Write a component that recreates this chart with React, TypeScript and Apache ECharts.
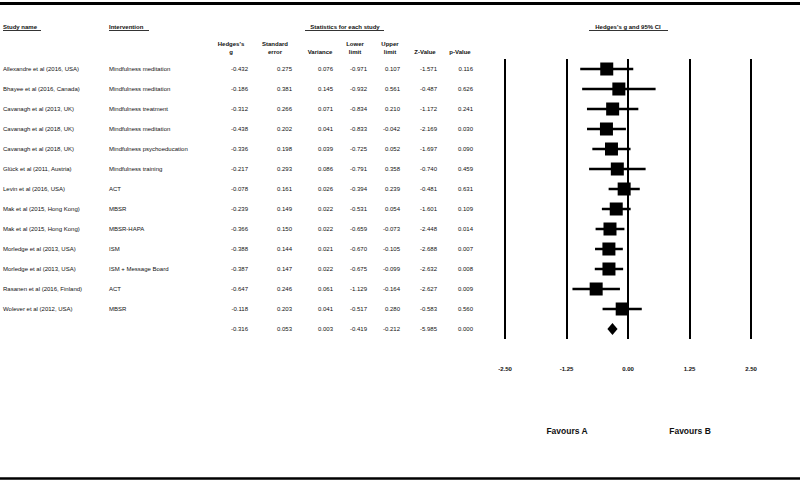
import React, { useEffect, useRef } from "react";
import * as echarts from "echarts";

const studies = [
  "Allexandre et al (2016, USA)",
  "Bhayee et al (2016, Canada)",
  "Cavanagh et al (2013, UK)",
  "Cavanagh et al (2018, UK)",
  "Cavanagh et al (2018, UK)",
  "Glück et al (2011, Austria)",
  "Levin et al (2016, USA)",
  "Mak et al (2015, Hong Kong)",
  "Mak et al (2015, Hong Kong)",
  "Morledge et al (2013, USA)",
  "Morledge et al (2013, USA)",
  "Rasanen et al (2016, Finland)",
  "Wolever et al (2012, USA)",
];
const interventions = [
  "Mindfulness meditation",
  "Mindfulness meditation",
  "Mindfulness treatment",
  "Mindfulness meditation",
  "Mindfulness psychoeducation",
  "Mindfulness training",
  "ACT",
  "MBSR",
  "MBSR-HAPA",
  "ISM",
  "ISM + Message Board",
  "ACT",
  "MBSR",
];
// last entry = pooled summary
const hedgesG = [-0.432, -0.186, -0.312, -0.438, -0.336, -0.217, -0.078, -0.239, -0.366, -0.388, -0.387, -0.647, -0.118, -0.316];
const stdErr = [0.275, 0.381, 0.266, 0.202, 0.198, 0.293, 0.161, 0.149, 0.15, 0.144, 0.147, 0.246, 0.203, 0.053];
const variance = [0.076, 0.145, 0.071, 0.041, 0.039, 0.086, 0.026, 0.022, 0.022, 0.021, 0.022, 0.061, 0.041, 0.003];
const lowerLimit = [-0.971, -0.932, -0.834, -0.833, -0.725, -0.791, -0.394, -0.531, -0.659, -0.67, -0.675, -1.129, -0.517, -0.419];
const upperLimit = [0.107, 0.561, 0.21, -0.042, 0.052, 0.358, 0.239, 0.054, -0.073, -0.105, -0.099, -0.164, 0.28, -0.212];
const zValue = [-1.571, -0.487, -1.172, -2.169, -1.697, -0.74, -0.481, -1.601, -2.448, -2.688, -2.632, -2.627, -0.583, -5.985];
const pValue = [0.116, 0.626, 0.241, 0.03, 0.09, 0.459, 0.631, 0.109, 0.014, 0.007, 0.008, 0.009, 0.56, 0.0];
const xTicks = [-2.5, -1.25, 0, 1.25, 2.5];

const FONT = "'Liberation Sans', Arial, sans-serif";

export default function App() {
  const ref = useRef<HTMLDivElement>(null);
  useEffect(() => {
    document.body.style.margin = "0";
    if (!ref.current) return;
    const chart = echarts.init(ref.current, null, { renderer: "svg" });
    const nRows = hedgesG.length;
    const numCols = [
      { arr: hedgesG, x: 248 },
      { arr: stdErr, x: 292 },
      { arr: variance, x: 333 },
      { arr: lowerLimit, x: 367 },
      { arr: upperLimit, x: 400 },
      { arr: zValue, x: 437 },
      { arr: pValue, x: 473 },
    ];
    const txt = (x: number, y: number, text: string, opts: any = {}) => ({
      type: "text",
      x,
      y,
      style: {
        text,
        fontSize: 6,
        fontFamily: FONT,
        fill: "#111",
        align: "left",
        verticalAlign: "middle",
        ...opts,
      },
    });
    const hdr = (x: number, y: number, text: string, align = "center") =>
      txt(x, y, text, { fontWeight: "bold", align });
    const hline = (x1: number, x2: number, y: number, w: number) => ({
      type: "line",
      shape: { x1, y1: y, x2, y2: y },
      style: { stroke: "#000", lineWidth: w },
    });

    const indices = Array.from({ length: nRows }, (_, i) => [0, i]);

    const option: any = {
      animation: false,
      backgroundColor: "#fff",
      grid: { left: 505, right: 49, top: 59, bottom: 144 },
      xAxis: {
        type: "value",
        min: -2.5,
        max: 2.5,
        interval: 1.25,
        axisLine: { show: false },
        axisTick: { show: false },
        axisLabel: {
          margin: 27,
          fontSize: 6,
          fontWeight: "bold",
          fontFamily: FONT,
          color: "#111",
          formatter: (v: number) => (xTicks.includes(v) ? v.toFixed(2) : ""),
        },
        splitLine: { show: true, lineStyle: { color: "#000", width: 2 } },
      },
      yAxis: {
        type: "value",
        inverse: true,
        min: -0.5,
        max: 13.5,
        show: false,
        splitLine: { show: false },
      },
      series: [
        {
          type: "custom",
          clip: false,
          data: indices,
          renderItem: (params: any, api: any) => {
            const i = params.dataIndex;
            const y = api.coord([0, i])[1];
            const children: any[] = [];
            if (i < studies.length) {
              children.push(txt(3, y, studies[i]));
              children.push(txt(109, y, interventions[i]));
            }
            numCols.forEach((c) => {
              children.push(txt(c.x, y, c.arr[i].toFixed(3), { align: "right" }));
            });
            return { type: "group", children };
          },
        },
        {
          type: "custom",
          clip: false,
          data: indices,
          renderItem: (params: any, api: any) => {
            const i = params.dataIndex;
            const y = api.coord([hedgesG[i], i])[1];
            const xg = api.coord([hedgesG[i], i])[0];
            const xl = api.coord([lowerLimit[i], i])[0];
            const xu = api.coord([upperLimit[i], i])[0];
            if (i === nRows - 1) {
              return {
                type: "polygon",
                shape: { points: [[xl, y], [xg, y - 6], [xu, y], [xg, y + 6]] },
                style: { fill: "#000" },
              };
            }
            const s = 13;
            return {
              type: "group",
              children: [
                {
                  type: "line",
                  shape: { x1: xl, y1: y, x2: xu, y2: y },
                  style: { stroke: "#000", lineWidth: 2.5 },
                },
                {
                  type: "rect",
                  shape: { x: xg - s / 2, y: y - s / 2, width: s, height: s },
                  style: { fill: "#000" },
                },
              ],
            };
          },
        },
      ],
      graphic: [
        hline(0, 800, 3.5, 3),
        hline(0, 800, 478.5, 2.5),
        hdr(3, 27, "Study name", "left"),
        hline(3, 41, 30.5, 0.8),
        hdr(109, 27, "Intervention", "left"),
        hline(109, 149, 30.5, 0.8),
        hdr(345, 27, "Statistics for each study"),
        hline(305, 384, 30.5, 0.8),
        hdr(628, 27, "Hedges's g and 95% CI"),
        hline(589, 668, 30.5, 0.8),
        hdr(231, 44, "Hedges's"),
        hdr(231, 52, "g"),
        hdr(275, 44, "Standard"),
        hdr(275, 52, "error"),
        hdr(320, 52, "Variance"),
        hdr(355, 44, "Lower"),
        hdr(355, 52, "limit"),
        hdr(390, 44, "Upper"),
        hdr(390, 52, "limit"),
        hdr(425, 52, "Z-Value"),
        hdr(460, 52, "p-Value"),
        txt(567, 431, "Favours A", { fontWeight: "bold", fontSize: 8.5, align: "center" }),
        txt(690, 431, "Favours B", { fontWeight: "bold", fontSize: 8.5, align: "center" }),
      ],
    };
    chart.setOption(option);
    return () => chart.dispose();
  }, []);
  return <div ref={ref} style={{ width: 800, height: 483 }} />;
}
